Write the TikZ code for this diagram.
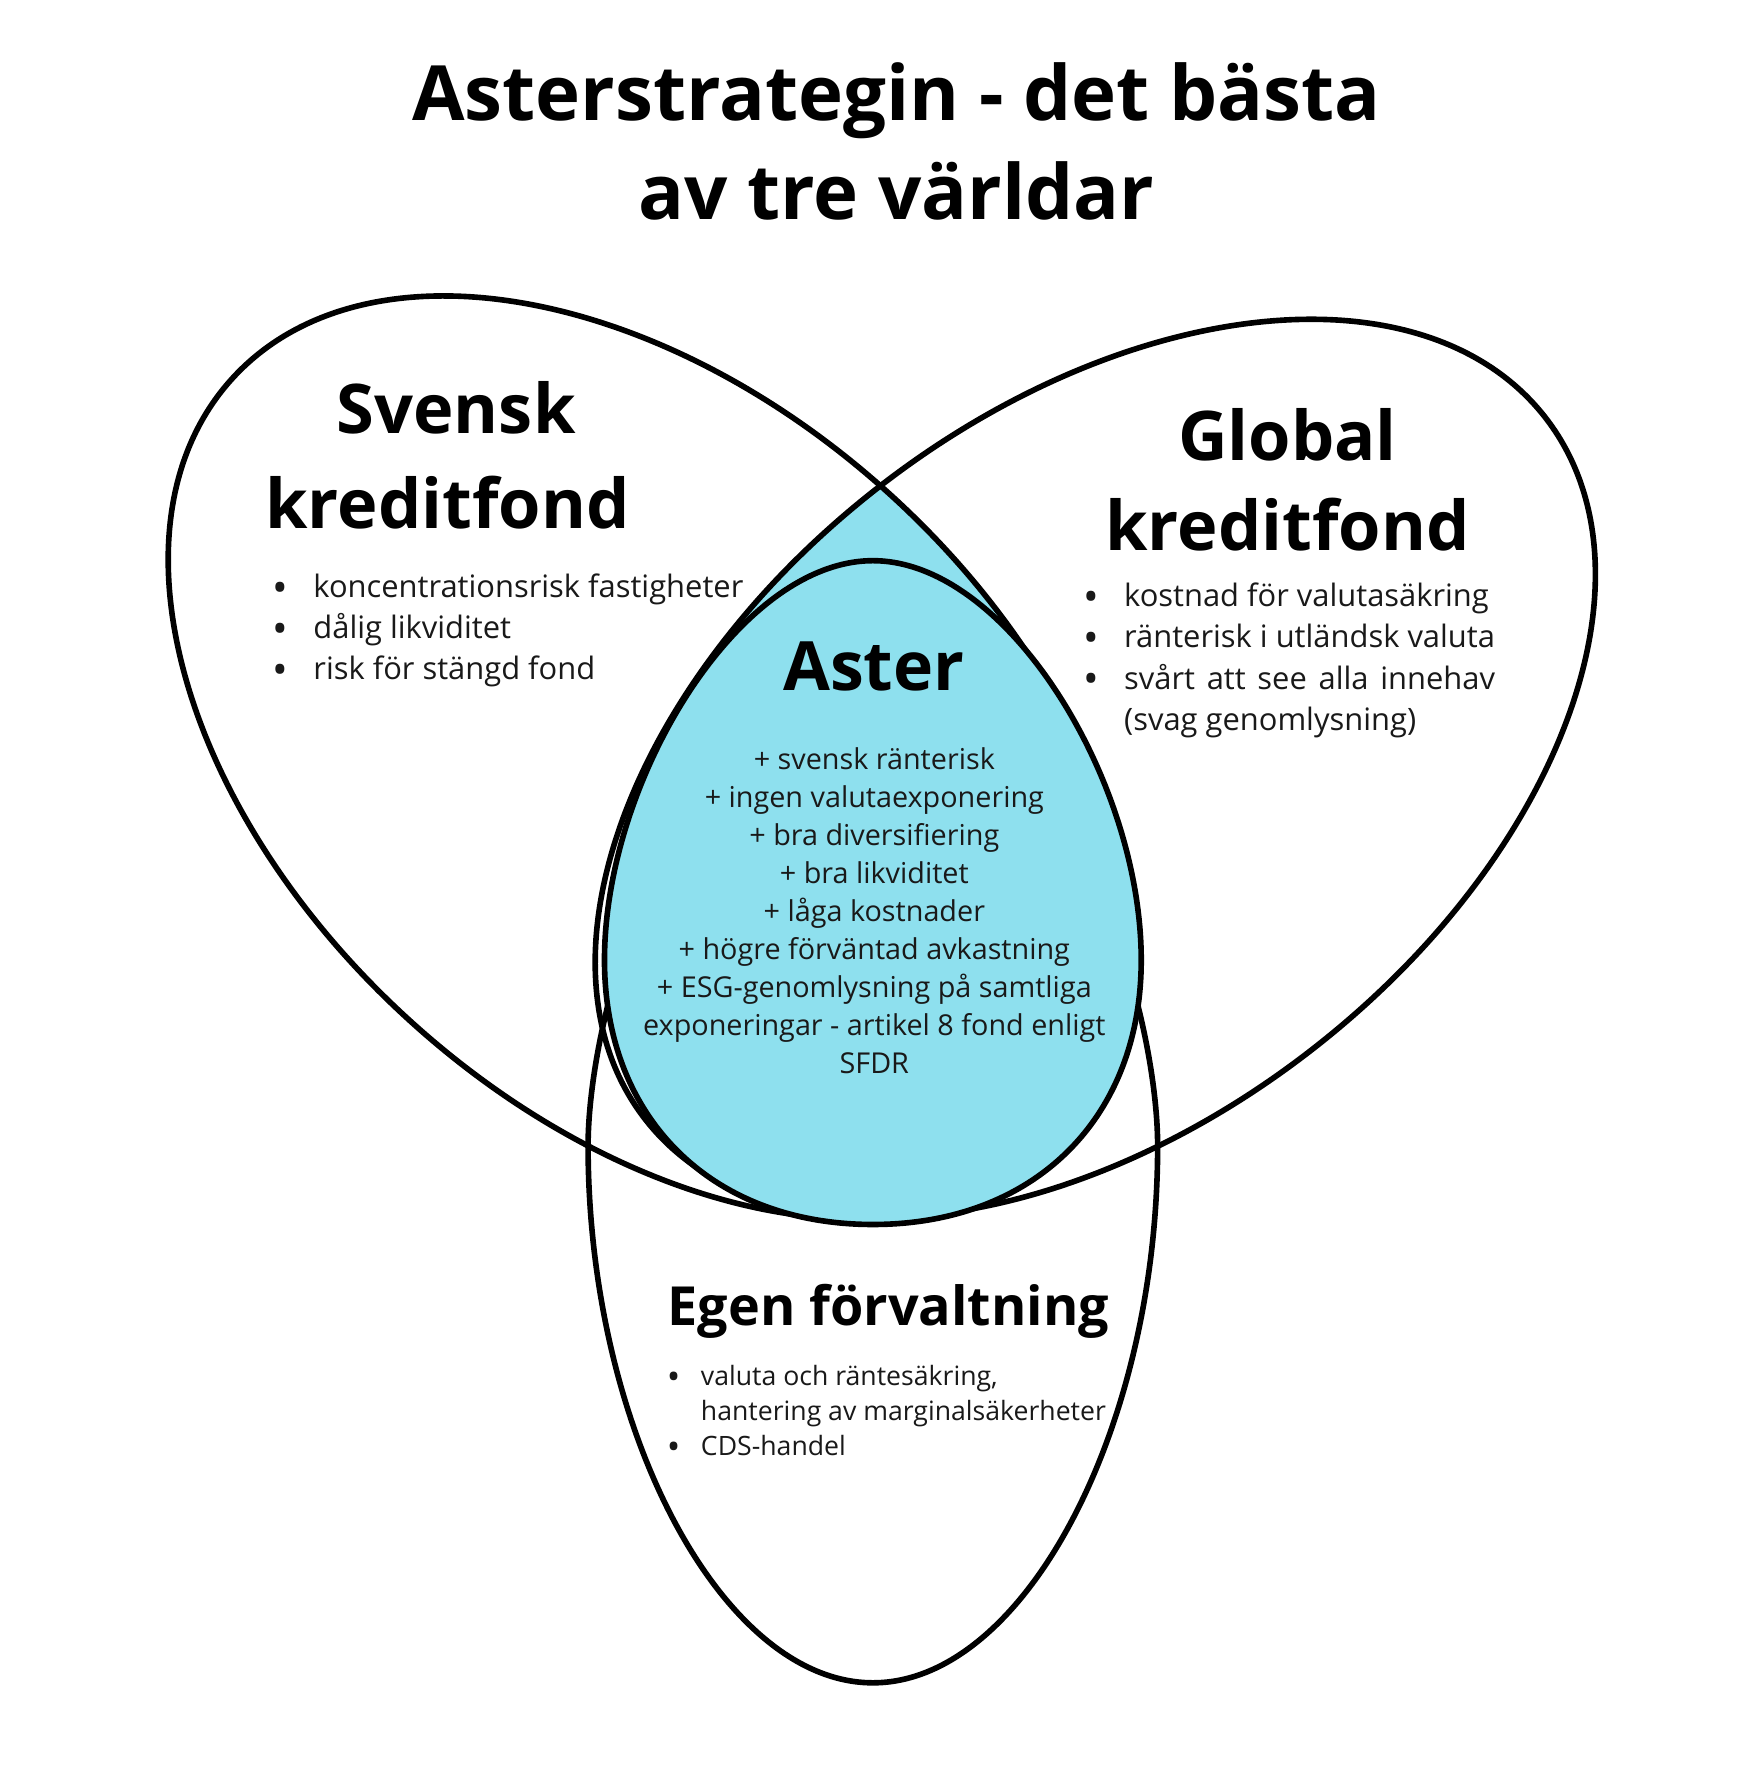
\documentclass[tikz,border=0pt]{standalone}
\usepackage{fontspec}
\setmainfont{Open Sans}
\definecolor{asterblue}{RGB}{142,224,238}
\definecolor{bodytext}{RGB}{25,25,25}
\newcommand\bdot{\raisebox{-0.15em}{\scalebox{1.35}{\textbullet}}}
\newcommand\bitem[2][29.5pt]{\makebox[0pt]{\bdot}\hspace{#1}#2}
\newcommand\bcont[2][29.5pt]{\hspace*{#1}#2}
\newlength\rwidth
\tikzset{
  shapeline/.style={line width=5pt, draw=black},
  titletext/.style={font=\fontsize{67.8}{88}\selectfont\bfseries, align=center, inner sep=0pt, anchor=base},
  headtext/.style={font=\fontsize{61}{80}\selectfont\bfseries, inner sep=0pt, anchor=base},
  listtext/.style={font=\fontsize{27.5}{36.6}\selectfont, align=left, inner sep=0pt, text=bodytext, anchor=base west},
  astertext/.style={font=\fontsize{25.6}{33.9}\selectfont, align=center, inner sep=0pt, text=bodytext, anchor=base},
  egenhead/.style={font=\fontsize{48}{60}\selectfont\bfseries, inner sep=0pt, anchor=base west},
  egentext/.style={font=\fontsize{23.7}{31.2}\selectfont, align=left, inner sep=0pt, text=bodytext, anchor=base west},
  leftshape/.style={rotate around={-42.15:(578.5,674.25)}},
  rightshape/.style={rotate around={38:(975,684)}}
}
\begin{document}
\begin{tikzpicture}[x=1pt,y=-1pt]
\fill[white] (0,0) rectangle (1556,1577.4);
\useasboundingbox (0,0) rectangle (1556,1577.4);

% blue lens between the two tilted ellipses (top part)
\begin{scope}
  \clip[leftshape] (578.5,674.25) ellipse [x radius=502, y radius=317.1];
  \clip[rightshape] (975,684) ellipse [x radius=508, y radius=316];
  \clip (0,0) rectangle (1556,600);
  \fill[asterblue] (0,0) rectangle (1556,1577.4);
\end{scope}

% outlines of the three worlds
\draw[shapeline, leftshape] (578.5,674.25) ellipse [x radius=502, y radius=317.1];
\draw[shapeline, rightshape] (975,684) ellipse [x radius=508, y radius=316];
\draw[shapeline] (777,620) .. controls (954,620) and (1030.5,900) .. (1030.5,1020)
  .. controls (1030.5,1273) and (911,1498) .. (777,1498)
  .. controls (643,1498) and (523.5,1273) .. (523.5,1020)
  .. controls (523.5,900) and (600,620) .. cycle;
% Aster egg
\draw[shapeline, fill=asterblue] (777,499.1) .. controls (896.5,499.1) and (1015.9,694.6) .. (1015.9,854.6)
  .. controls (1015.9,995.8) and (920.3,1090) .. (777,1090)
  .. controls (633.7,1090) and (538.1,995.8) .. (538.1,854.6)
  .. controls (538.1,694.6) and (657.5,499.1) .. cycle;

% texts (multi-line nodes are placed by the baseline of their last line)
\node[titletext] (title) at (798,195) {Asterstrategin - det bästa\\av tre världar};

\node[headtext, align=left, anchor=base west, font=\fontsize{61}{84.6}\selectfont\bfseries] (svhead) at (236,470.3) {\hspace*{63.5pt}Svensk\\kreditfond};
\node[listtext] (svlist) at (249.3,605) {\bitem{koncentrationsrisk fastigheter}\\\bitem{dålig likviditet}\\\bitem{risk för stängd fond}};

\node[headtext, align=center] (glhead) at (1146,489.6) {Global\\kreditfond};
\node[listtext] (gllist) at (971,650) {\bitem{kostnad för valutasäkring}\\\bitem{ränterisk i utländsk valuta}\\\bitem{\settowidth{\rwidth}{ränterisk i utländsk valuta}\makebox[\rwidth][s]{svårt att see alla innehav}}\\\bcont{(svag genomlysning)}};

\node[headtext, font=\fontsize{60.5}{80}\selectfont\bfseries] (asterhead) at (777.8,615) {Aster};
\node[astertext] (asterlist) at (778.3,956) {+ svensk ränterisk\\+ ingen valutaexponering\\+ bra diversifiering\\+ bra likviditet\\+ låga kostnader\\+ högre förväntad avkastning\\+ ESG-genomlysning på samtliga\\exponeringar - artikel 8 fond enligt\\SFDR};

\node[egenhead] (egenhead) at (594,1180) {Egen förvaltning};
\node[egentext] (egenlist) at (599.5,1296) {\bitem[24.3pt]{valuta och räntesäkring,}\\\bcont[24.3pt]{hantering av marginalsäkerheter}\\\bitem[24.3pt]{CDS-handel}};
\end{tikzpicture}
\end{document}
